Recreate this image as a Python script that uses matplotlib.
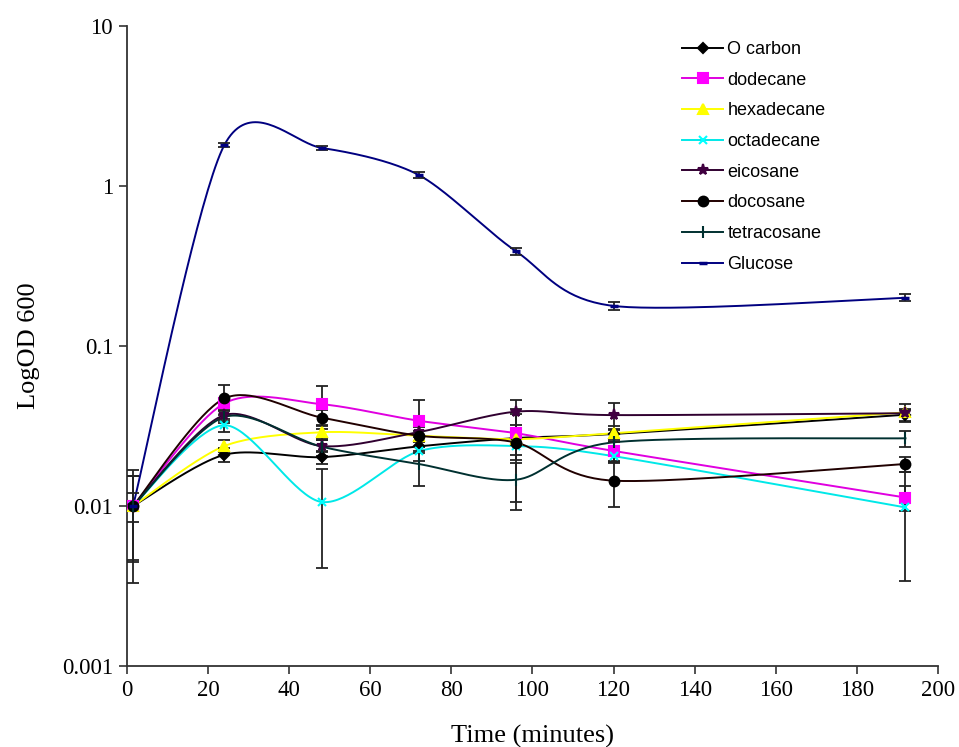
import numpy as np
import matplotlib
matplotlib.use("Agg")
import matplotlib.pyplot as plt

# sampling times (minutes)
time = [1.5, 24, 48, 72, 96, 120, 192]

series_names = ["O carbon", "dodecane", "hexadecane", "octadecane",
                "eicosane", "docosane", "tetracosane", "Glucose"]

o_carbon = [0.010, 0.0209, 0.0202, 0.0236, 0.0266, 0.0282, 0.0372]
dodecane = [0.010, 0.0438, 0.0433, 0.0341, 0.0285, 0.0221, 0.0113]
hexadecane = [0.010, 0.0237, 0.0289, 0.0275, 0.0262, 0.0285, 0.0385]
octadecane = [0.010, 0.0320, 0.0106, 0.0220, 0.0237, 0.0205, 0.0098]
eicosane = [0.010, 0.0370, 0.0237, 0.0290, 0.0389, 0.0370, 0.0380]
docosane = [0.010, 0.0470, 0.0357, 0.0275, 0.0249, 0.0144, 0.0183]
tetracosane = [0.010, 0.0360, 0.0235, 0.0183, 0.0146, 0.0250, 0.0265]
glucose = [0.010, 1.80, 1.73, 1.17, 0.39, 0.178, 0.20]

err_o_carbon = [0.0, 0.002, 0.002, 0.002, 0.002, 0.002, 0.003]
err_dodecane = [0.0067, 0.003, 0.013, 0.012, 0.009, 0.003, 0.002]
err_hexadecane = [0.0054, 0.002, 0.003, 0.002, 0.002, 0.003, 0.005]
err_octadecane = [0.002, 0.003, 0.0065, 0.003, 0.003, 0.002, 0.0064]
err_eicosane = [0.0, 0.003, 0.002, 0.002, 0.007, 0.007, 0.002]
err_docosane = [0.0, 0.010, 0.004, 0.004, 0.0155, 0.0045, 0.002]
err_tetracosane = [0.0055, 0.003, 0.003, 0.005, 0.004, 0.003, 0.003]
err_glucose = [0.0, 0.05, 0.04, 0.05, 0.02, 0.01, 0.01]

values = [o_carbon, dodecane, hexadecane, octadecane,
          eicosane, docosane, tetracosane, glucose]
errors = [err_o_carbon, err_dodecane, err_hexadecane, err_octadecane,
          err_eicosane, err_docosane, err_tetracosane, err_glucose]

# line colour, marker, marker colour, marker size
styles = [
    ("black", "D", "black", 5),
    ("#e000e0", "s", "#ff00ff", 7),
    ("#ffff00", "^", "#ffff00", 7),
    ("#00e8e8", "x", "#00ffff", 6),
    ("#300030", "*", "#400040", 8),
    ("#200000", "o", "black", 7),
    ("#003030", "|", "#003030", 8),
    ("#000080", "_", "#000080", 6),
]


def smooth(x, y, n=40, k=7.0):
    # excel-like smoothed line: bezier through points, done in screen units (log y)
    sx, sy = 4.055, 160.0
    P = np.column_stack([np.asarray(x) * sx, np.log10(y) * sy])
    E = np.vstack([P[0], P, P[-1]])
    t = np.linspace(0, 1, n)[:, None]
    segs = []
    for i in range(len(P) - 1):
        p0, p1, p2, p3 = E[i], E[i + 1], E[i + 2], E[i + 3]
        c1 = p1 + (p2 - p0) / k
        c2 = p2 - (p3 - p1) / k
        segs.append((1 - t) ** 3 * p1 + 3 * (1 - t) ** 2 * t * c1
                    + 3 * (1 - t) * t ** 2 * c2 + t ** 3 * p2)
    S = np.vstack(segs)
    return S[:, 0] / sx, 10 ** (S[:, 1] / sy)


fig = plt.figure(figsize=(9.59, 7.47), dpi=100)
ax = fig.add_axes([0.1324, 0.1084, 0.8456, 0.8568])

handles = []
for name, v, e, (lc, mk, mc, ms) in zip(series_names, values, errors, styles):
    xs, ys = smooth(time, v)
    ax.plot(xs, ys, color=lc, lw=1.4, zorder=2)
    ax.errorbar(time, v, yerr=e, fmt="none", ecolor="#222222",
                elinewidth=1.3, capsize=4.5, capthick=1.3, zorder=3)
    mew = 2.5 if mk == "_" else 1.5
    ax.plot(time, v, ls="none", marker=mk, ms=ms, mfc=mc, mec=mc,
            mew=mew, zorder=4)
    h, = ax.plot([], [], color=lc, lw=1.4, marker=mk, ms=ms, mfc=mc,
                 mec=mc, mew=mew, label=name)
    handles.append(h)

ax.set_yscale("log")
ax.set_ylim(0.001, 10)
ax.set_xlim(0, 200)
ax.set_xticks(range(0, 201, 20))
ax.set_yticks([0.001, 0.01, 0.1, 1, 10])
ax.set_yticklabels(["0.001", "0.01", "0.1", "1", "10"])
ax.minorticks_off()

for s in ["top", "right"]:
    ax.spines[s].set_visible(False)
for s in ["left", "bottom"]:
    ax.spines[s].set_linewidth(1.3)
    ax.spines[s].set_color("#333333")

ax.tick_params(direction="out", length=6, width=1.2, color="#333333",
               labelsize=16.5, pad=4)
for lab in ax.get_xticklabels() + ax.get_yticklabels():
    lab.set_fontfamily("Liberation Serif")

ax.set_xlabel("Time (minutes)", fontsize=19, fontfamily="Liberation Serif",
              labelpad=17)
ax.set_ylabel("LogOD 600", fontsize=19, fontfamily="Liberation Serif",
              labelpad=16)

ax.legend(handles=handles, loc="upper left",
          bbox_to_anchor=(0.704, 0.955), bbox_transform=fig.transFigure,
          frameon=False, prop={"family": "Liberation Sans", "size": 13},
          labelspacing=0.76, handlelength=2.25, handletextpad=0.25,
          borderaxespad=0)

fig.savefig("out.png", dpi=100)
